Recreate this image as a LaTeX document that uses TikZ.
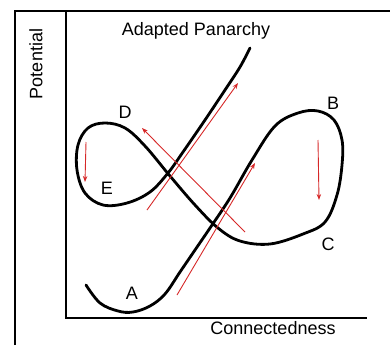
\documentclass[tikz,border=0pt]{standalone}
\usepackage{fontspec}
\setmainfont{Liberation Sans}
\usepackage{tikz}
\usetikzlibrary{arrows.meta}
\tikzset{
  lbl/.style={inner sep=0pt, font=\fontsize{18}{20}\selectfont},
  axis/.style={line width=2.6pt, line cap=rect},
  curve/.style={line width=2.8pt, line cap=round, line join=round},
  arr/.style={-{Stealth[length=6pt, width=4.5pt]}, line width=0.9pt, draw=arrred}
}
\definecolor{arrred}{RGB}{214,40,40}

\begin{document}
\begin{tikzpicture}[x=1pt, y=-1pt]
\useasboundingbox (0,0) rectangle (390,345);
\draw[line width=2.2pt] (15,345) -- (15,11) -- (392,11);
\draw[axis] (66,12) -- (66,318) -- (366,318);
\node[lbl] (ttl) at (196,31) {Adapted Panarchy};
\node[lbl] (xlab) at (273,328) {Connectedness};
\node[lbl, rotate=90] (ylab) at (36,64) {Potential};
\node[lbl] (lA) at (132,293) {A};
\node[lbl] (lB) at (333,103) {B};
\node[lbl] (lC) at (328,244) {C};
\node[lbl] (lD) at (125,112) {D};
\node[lbl] (lE) at (107,188) {E};
% adaptive cycle path
\draw[curve] plot[smooth, tension=0.6] coordinates {
  (86,285) (100,303) (118,311) (133,312) (150,306) (165,294) (180,272)
  (195,250) (210,228) (230,198) (252,160) (275,126) (298,113) (318,111)
  (334,120) (342,140) (342,165) (337,195) (325,222) (303,234) (270,244)
  (240,241) (218,228) (195,205) (170,176) (145,146) (125,128) (105,123)
  (88,128) (78,145) (77,170) (85,193) (103,205) (127,203) (150,192)
  (168,173) (183,152) (205,120) (225,90) (240,67) (250,48)};
% direction arrows
\coordinate (s1) at (147,210); \coordinate (t1) at (238,83);
\coordinate (s2) at (177,295); \coordinate (t2) at (255,163);
\coordinate (s3) at (245,232); \coordinate (t3) at (142,128);
\coordinate (s4) at (86,142);  \coordinate (t4) at (85,182);
\coordinate (s5) at (318,140); \coordinate (t5) at (319,200);
\draw[arr] (s1) -- (t1); \draw[arr] (s2) -- (t2); \draw[arr] (s3) -- (t3);
\draw[arr] (s4) -- (t4); \draw[arr] (s5) -- (t5);
\end{tikzpicture}
\end{document}
